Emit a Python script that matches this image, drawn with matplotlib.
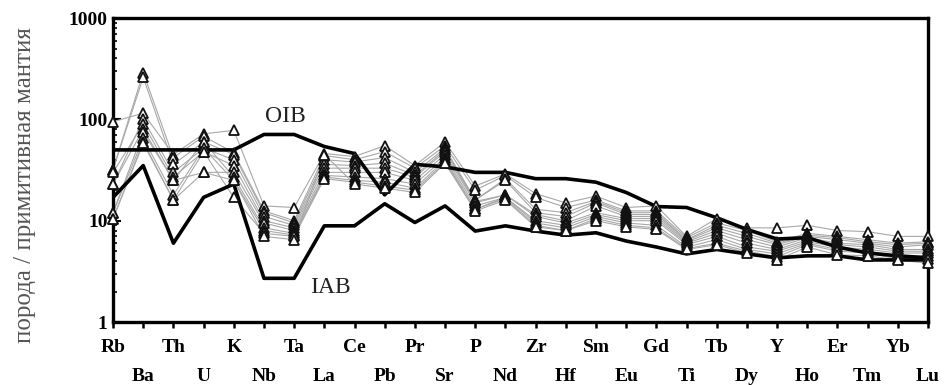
import numpy as np
import matplotlib.pyplot as plt
from matplotlib.ticker import LogLocator, NullFormatter

plt.rcParams['font.family'] = ['Liberation Serif', 'DejaVu Serif']

elements = ['Rb', 'Ba', 'Th', 'U', 'K', 'Nb', 'Ta', 'La', 'Ce', 'Pb', 'Pr', 'Sr', 'P', 'Nd',
            'Zr', 'Hf', 'Sm', 'Eu', 'Gd', 'Ti', 'Tb', 'Dy', 'Y', 'Ho', 'Er', 'Tm', 'Yb', 'Lu']

# reference curves
oib = [50, 50, 50, 50, 50, 71, 71, 54, 46, 18, 36, 34, 30, 30,
       26, 26, 24, 19, 13.8, 13.5, 10.7, 8.2, 6.6, 6.8, 5.5, 4.8, 4.5, 4.3]
iab = [17, 35, 6, 17, 23, 2.7, 2.7, 8.9, 8.9, 14.7, 9.6, 14, 7.9, 8.9,
       7.9, 7.2, 7.6, 6.3, 5.5, 4.7, 5.2, 4.7, 4.3, 4.5, 4.5, 4.1, 4.1, 4.1]

# samples
s1 = [95, 115, 45, 72, 78, 14, 13.5, 46, 43, 55, 35, 60, 22, 29,
      18.5, 15, 17.5, 13.5, 14, 7, 10.5, 8.5, 8.5, 9, 8, 7.8, 7, 7]
s2 = [32, 290, 42, 68, 47, 12.5, 10, 44, 40, 48, 33, 55, 20, 28,
      17, 13.5, 16, 12.5, 12.5, 6.8, 9.5, 8, 6.2, 7.5, 7, 6.5, 6, 6.2]
s3 = [32, 260, 36, 60, 45, 12, 9.5, 40, 38, 42, 30, 52, 16, 26,
      13, 12, 15.5, 12, 12, 6.5, 9, 7.5, 6, 7.2, 6.8, 6.2, 5.8, 6]
s4 = [23, 100, 30, 52, 40, 11, 9, 36, 35, 37, 28, 50, 16, 25,
      12, 11, 15, 11.5, 11.5, 6.4, 8.5, 7, 5.8, 7, 6.5, 6, 5.5, 5.8]
s5 = [30, 90, 27, 48, 35, 10, 8.5, 33, 33, 33, 27, 48, 15.5, 18,
      11.5, 10, 14, 11, 11, 6.2, 8, 6.5, 5.5, 6.8, 6, 5.8, 5.2, 5.2]
s6 = [23, 80, 25, 30, 30, 9.5, 8, 30, 30, 30, 25, 45, 15, 18,
      11, 9.5, 12, 10.5, 10.5, 6, 7.5, 6, 5.2, 6.5, 5.8, 5.5, 5, 5]
s7 = [12, 75, 25, 60, 27, 8.5, 7.5, 28, 27, 26, 23, 42, 14, 17,
      10, 9, 11.5, 10, 10, 5.8, 7, 5.5, 5, 6.2, 5.5, 5.2, 4.8, 4.8]
s8 = [12, 65, 18, 52, 25, 8, 7.2, 27, 25, 24, 21, 40, 13, 17,
      9.5, 8.5, 11, 9.5, 9, 5.5, 6.5, 5.2, 4.7, 6, 5.2, 5, 4.5, 4.5]
s9 = [10.5, 60, 16, 48, 17, 7.5, 7, 26, 24, 22, 20, 38, 13, 16.5,
      9, 8, 10.5, 9, 8.5, 5.3, 6, 5, 4.4, 5.8, 5, 4.8, 4.2, 4.2]
s10 = [10.5, 58, 16, 30, 25, 7, 6.5, 45, 23, 21, 19, 37, 12.5, 16,
       8.7, 8, 10, 8.7, 8.2, 5.2, 5.8, 4.8, 4.1, 5.5, 4.6, 4.5, 4.1, 3.8]
samples = [s1, s2, s3, s4, s5, s6, s7, s8, s9, s10]

fig = plt.figure(figsize=(9.46, 3.85), dpi=100)
ax = fig.add_axes([0.1195, 0.1636, 0.8615, 0.7894])
x = np.arange(len(elements))

for s in samples:
    ax.plot(x, s, color='#a8a8a8', lw=0.8, zorder=2)
ax.plot(x, oib, color='black', lw=2.6, zorder=3)
ax.plot(x, iab, color='black', lw=2.6, zorder=3)
for s in samples:
    ax.plot(x, s, ls='none', marker='^', ms=7.5, mfc='white', mec='#111111',
            mew=1.3, zorder=4, clip_on=False)

ax.set_yscale('log')
ax.set_ylim(1, 1000)
ax.set_xlim(0, len(elements) - 1)

ax.set_yticks([1, 10, 100, 1000])
ax.set_yticklabels(['1', '10', '100', '1000'], fontsize=14, fontweight='bold')
ax.yaxis.set_minor_locator(LogLocator(base=10, subs=np.arange(2, 10)))
ax.yaxis.set_minor_formatter(NullFormatter())
ax.tick_params(axis='y', which='major', direction='in', length=6, width=1.5, pad=4)
ax.tick_params(axis='y', which='minor', direction='in', length=3, width=1.2)

ax.set_xticks(x)
labels = [e if i % 2 == 0 else '\n' + e for i, e in enumerate(elements)]
ax.set_xticklabels(labels, fontsize=14, fontweight='bold', linespacing=1.95)
ax.tick_params(axis='x', direction='out', length=4, width=1.8, pad=8)

for sp in ax.spines.values():
    sp.set_linewidth(2.4)

ax.text(5.7, 107, 'OIB', fontsize=17, ha='center', va='center', color='#222222')
ax.text(7.2, 2.17, 'IAB', fontsize=17, ha='center', va='center', color='#222222')

fig.text(0.026, 0.52, 'порода / примитивная мантия', rotation=90, fontsize=18,
         color='#555555', ha='center', va='center')

fig.savefig('out.png', dpi=100)
